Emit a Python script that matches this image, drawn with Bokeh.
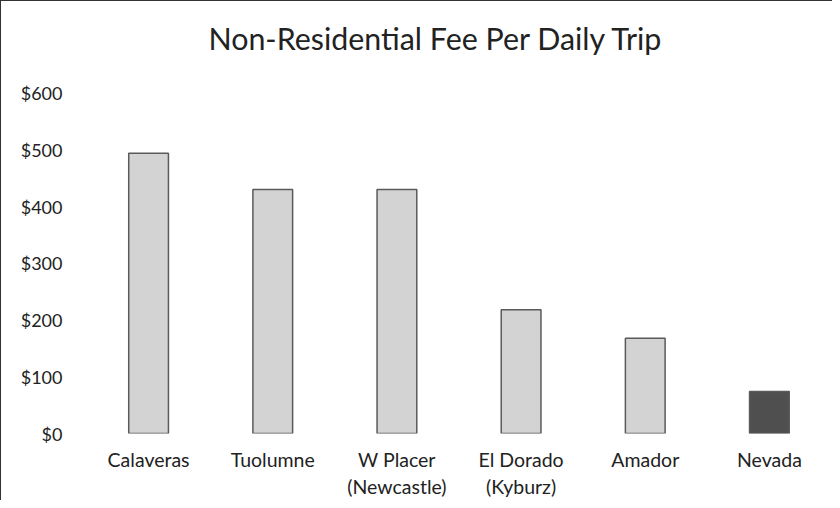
from bokeh.plotting import figure
from bokeh.models import Range1d, ColumnDataSource, NumeralTickFormatter, FixedTicker, Label
from bokeh.embed import file_html
from bokeh.resources import INLINE

categories = ["Calaveras", "Tuolumne", "W Placer\n(Newcastle)", "El Dorado\n(Kyburz)", "Amador", "Nevada"]
fees = [494, 430, 430, 218, 168, 74]
colors = ["#d3d3d3", "#d3d3d3", "#d3d3d3", "#d3d3d3", "#d3d3d3", "#4f4f4f"]
y_ticks = [0, 100, 200, 300, 400, 500, 600]
title_text = "Non-Residential Fee Per Daily Trip"

src = ColumnDataSource(dict(cat=categories, fee=fees, color=colors))

# the frame extends above $600 so that the title sits inside it
p = figure(x_range=categories, y_range=Range1d(0, 744), width=832, height=500,
           output_backend="svg", toolbar_location=None,
           min_border_left=85, min_border_right=2, min_border_top=10, min_border_bottom=66,
           styles={"border-left": "1px solid #333", "border-top": "1px solid #333"})

p.vbar(x="cat", top="fee", width=0.32, source=src, fill_color="color",
       line_color="#5a5a5a", line_width=1.5)

title = Label(x=0.982, y=697, x_units="data", y_units="data", text=title_text,
              text_font="Lato", text_font_size="30.4px", text_color="#222222",
              text_baseline="middle", text_align="left")
p.add_layout(title)

p.yaxis.ticker = FixedTicker(ticks=y_ticks)
p.yaxis.formatter = NumeralTickFormatter(format="$0")
for ax in (p.xaxis, p.yaxis):
    ax.axis_line_color = None
    ax.major_tick_line_color = None
    ax.minor_tick_line_color = None
    ax.major_label_text_font = "Lato"
    ax.major_label_text_color = "#222222"
p.yaxis.major_label_text_font_size = "18px"
p.xaxis.major_label_text_font_size = "19.5px"
p.yaxis.major_label_standoff = 18
p.xaxis.major_label_standoff = 8

p.xgrid.grid_line_color = None
p.ygrid.grid_line_color = None
p.outline_line_color = None
p.background_fill_color = "white"
p.border_fill_color = "white"

open("out.html", "w").write(file_html(p, INLINE))
